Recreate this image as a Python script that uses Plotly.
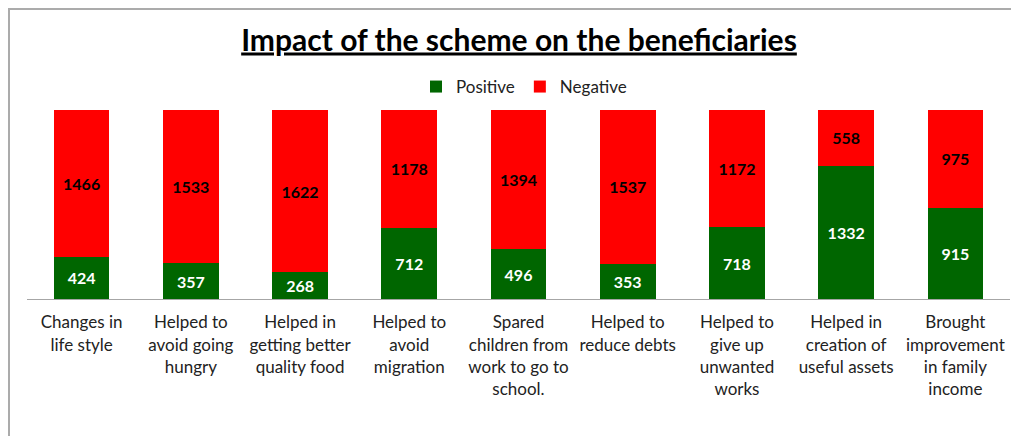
import plotly.graph_objects as go

categories = [
    "Changes in<br>life style",
    "Helped to<br>avoid going<br>hungry",
    "Helped in<br>getting better<br>quality food",
    "Helped to<br>avoid<br>migration",
    "Spared<br>children from<br>work to go to<br>school.",
    "Helped to<br>reduce debts",
    "Helped to<br>give up<br>unwanted<br>works",
    "Helped in<br>creation of<br>useful assets",
    "Brought<br>improvement<br>in family<br>income",
]
positive = [424, 357, 268, 712, 496, 353, 718, 1332, 915]
negative = [1466, 1533, 1622, 1178, 1394, 1537, 1172, 558, 975]

FONT = "Lato"
OFF = 8  # page body margin
W, H = 1019 - 2 * OFF, 444 - 2 * OFF
L, R, T, B = 27 - OFF, 1, 110 - OFF, 0
B = H - (299 - OFF)

fig = go.Figure()
fig.add_trace(go.Bar(
    name="Positive", x=categories, y=positive,
    marker=dict(color="#006600", line=dict(width=0)),
    text=positive, textposition="inside", insidetextanchor="middle",
    textangle=0, constraintext="none",
    textfont=dict(family=FONT, size=16, color="white", weight="bold"),
))
fig.add_trace(go.Bar(
    name="Negative", x=categories, y=negative,
    marker=dict(color="#FF0000", line=dict(width=0)),
    text=negative, textposition="inside", insidetextanchor="middle",
    textangle=0, constraintext="none",
    textfont=dict(family=FONT, size=16, color="black", weight="bold"),
))

pw = W - L - R
ph = H - T - B
fig.add_shape(type="rect", xref="paper", yref="paper",
              x0=(1 - L) / pw, x1=1.05, y0=-1.0, y1=(H - B - 1) / ph,
              line=dict(color="#ABABAB", width=2), fillcolor="rgba(0,0,0,0)",
              layer="below")

fig.update_layout(
    width=W, height=H,
    margin=dict(l=L, r=R, t=T, b=B, autoexpand=False),
    barmode="stack", bargap=0.49,
    paper_bgcolor="white", plot_bgcolor="white",
    title=dict(text="<b>Impact of the scheme on the beneficiaries</b>",
               x=(519 - 27) / pw, xref="paper", xanchor="center",
               y=1 - (40 - OFF) / H, yref="container", yanchor="middle",
               font=dict(family=FONT, size=30, color="black", lineposition="under")),
    legend=dict(orientation="h", x=(524 - 27) / pw, xanchor="center",
                y=(299 - 87) / ph, yanchor="middle", traceorder="normal",
                font=dict(family=FONT, size=17, color="#222222"),
                itemwidth=30, tracegroupgap=0, bgcolor="rgba(0,0,0,0)"),
    showlegend=True,
    xaxis=dict(showline=True, linecolor="#A6A6A6", linewidth=1,
               ticks="", tickfont=dict(family=FONT, size=17, color="#222222"),
               tickangle=0, ticklabelstandoff=8, fixedrange=True),
    yaxis=dict(range=[0, 1890], visible=False, showgrid=False, fixedrange=True),
)

fig.write_html("out.html")
